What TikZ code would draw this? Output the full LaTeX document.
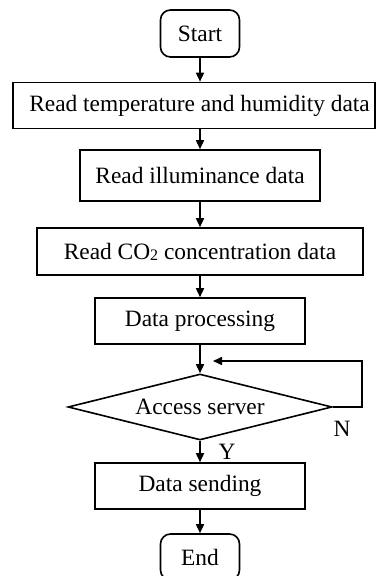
\documentclass[tikz,border=0pt]{standalone}
\usepackage{fontspec}
\setmainfont{Liberation Serif}
\usetikzlibrary{arrows.meta,shapes.geometric}

\tikzset{
  box/.style={draw, line width=0.8pt, inner sep=0pt, align=center},
  term/.style={box, rounded corners=5pt, minimum width=39.5pt, minimum height=23.5pt},
  decide/.style={draw, line width=0.8pt, diamond, aspect=4, inner sep=0pt, minimum width=132pt, minimum height=33pt},
  flow/.style={line width=0.8pt, -{Triangle[length=4.5pt,width=4pt]}},
}

\begin{document}
\begin{tikzpicture}[x=0.5pt, y=-0.5pt, font=\fontsize{11.7}{14}\selectfont]
    %%%%% START %%%%%
    \useasboundingbox (0,0) rectangle (376,576);

    \node[term] (start) at (200, 33.5) {Start};
    \node[box, minimum width=181pt, minimum height=23pt] (temp) at (194, 105.5) {\hspace*{5.5pt}Read temperature and humidity data};
    \node[box, minimum width=120pt, minimum height=25.5pt] (lux) at (200, 175.5) {Read illuminance data};
    \node[box, minimum width=163pt, minimum height=23.5pt] (co2) at (200, 251.5) {Read CO\raisebox{-0.4pt}{\fontsize{8}{9}\selectfont 2} concentration data};
    \node[box, minimum width=105pt, minimum height=23pt] (proc) at (200, 321) {Data processing};
    \node[decide] (srv) at (200, 407) {Access server};
    \node[box, minimum width=105pt, minimum height=23pt] (send) at (200, 486) {Data sending};
    \node[term, minimum height=23pt] (stop) at (200, 557) {End};

    % loop back end point
    \coordinate (back) at (213, 361);

    \draw[flow] (start.south) -- (start.south |- temp.north);
    \draw[flow] (temp.south -| lux.north) -- (lux.north);
    \draw[flow] (lux.south) -- (co2.north);
    \draw[flow] (co2.south) -- (proc.north);
    \draw[flow] (proc.south) -- (srv.north);
    \draw[flow] (srv.east) -- ++(29,0) |- (back);
    \draw[flow] (srv.south) -- (send.north);
    \draw[flow] (send.south) -- (stop.north);

    \node (yes) at (227, 452) {Y};
    \node (no) at (342, 429) {N};
    %%%%% END %%%%%
\end{tikzpicture}
\end{document}
